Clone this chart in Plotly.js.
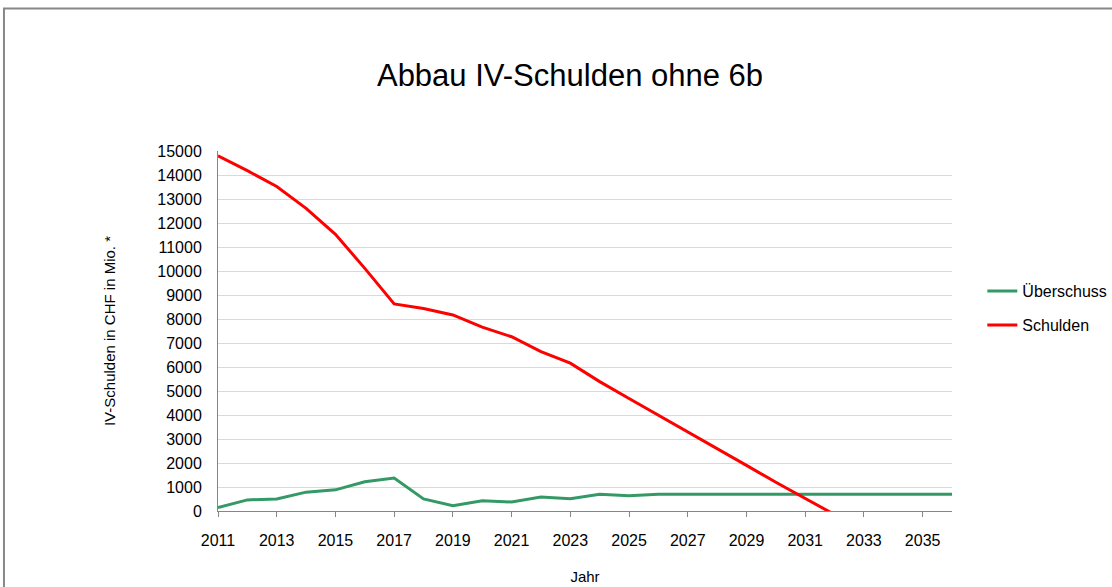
<!DOCTYPE html>
<html>
<head>
<meta charset="utf-8">
<script src="https://cdn.plot.ly/plotly-3.0.1.min.js"></script>
<style>
html,body{margin:0;padding:0;background:#fff;}
#chart{width:1112px;height:587px;}
</style>
</head>
<body>
<div id="chart"></div>
<script>
const years = [2011,2012,2013,2014,2015,2016,2017,2018,2019,2020,2021,2022,2023,2024,2025,2026,2027,2028,2029,2030,2031,2032,2033,2034,2035,2036];
const ueberschuss = [139,462,504,785,882,1218,1374,504,222,430,375,583,514,694,639,700,700,700,700,700,700,700,700,700,700,700];
const schulden = [14800,14180,13520,12610,11530,10110,8630,8440,8170,7660,7260,6640,6160,5390,4690,4000,3300,2600,1900,1200,510,-150,null,null,null,null];
const tickYears = [2011,2013,2015,2017,2019,2021,2023,2025,2027,2029,2031,2033,2035];
const yTicks = [0,1000,2000,3000,4000,5000,6000,7000,8000,9000,10000,11000,12000,13000,14000,15000];

const FONT = 'Liberation Sans, Arial, sans-serif';

const traces = [
  {x: years, y: ueberschuss, name: 'Überschuss', type: 'scatter', mode: 'lines',
   line: {color: '#339966', width: 3}, legendgroup: 'a'},
  {x: years, y: schulden, name: 'Schulden', type: 'scatter', mode: 'lines',
   line: {color: '#ff0000', width: 3}, legendgroup: 'b', connectgaps: false}
];

const layout = {
  width: 1112, height: 587,
  margin: {l: 218, r: 160, t: 151, b: 76, autoexpand: false},
  paper_bgcolor: '#ffffff', plot_bgcolor: '#ffffff',
  font: {family: FONT, color: '#000000', size: 16},
  title: {text: 'Abbau IV-Schulden ohne 6b', font: {family: FONT, size: 31, color: '#000'},
          x: 0.5126, xanchor: 'center', y: 0.872, yanchor: 'middle', xref: 'container', yref: 'container'},
  xaxis: {
    range: [2011, 2036], tickvals: tickYears, ticktext: tickYears.map(String),
    showgrid: false, zeroline: false, showline: true, linecolor: '#868686', linewidth: 1,
    ticks: 'outside', ticklen: 5, tickcolor: '#868686', tickfont: {size: 16},
    ticklabelstandoff: 10,
    title: {text: 'Jahr', font: {size: 15}, standoff: 23}
  },
  yaxis: {
    range: [0, 15000], tickvals: yTicks, ticktext: yTicks.map(String),
    showgrid: true, gridcolor: '#d9d9d9', gridwidth: 1, zeroline: false,
    showline: true, linecolor: '#868686', linewidth: 1, ticks: '', tickfont: {size: 16},
    ticklabelstandoff: 12,
    title: {text: 'IV-Schulden in CHF in Mio. *', font: {size: 15}, standoff: 38}
  },
  showlegend: true,
  legend: {xref: 'container', yref: 'container', x: 0.8834, xanchor: 'left', y: 0.475, yanchor: 'middle',
           traceorder: 'grouped', tracegroupgap: 10, font: {size: 16}, bgcolor: 'rgba(0,0,0,0)'},
  shapes: [{type: 'rect', xref: 'paper', yref: 'paper', x0: -0.2916, x1: 2, y0: -1, y1: 1.3958,
            line: {color: '#888888', width: 2}, fillcolor: 'rgba(0,0,0,0)', layer: 'below'}]
};

Plotly.newPlot('chart', traces, layout, {displayModeBar: false, staticPlot: true});
</script>
</body>
</html>
